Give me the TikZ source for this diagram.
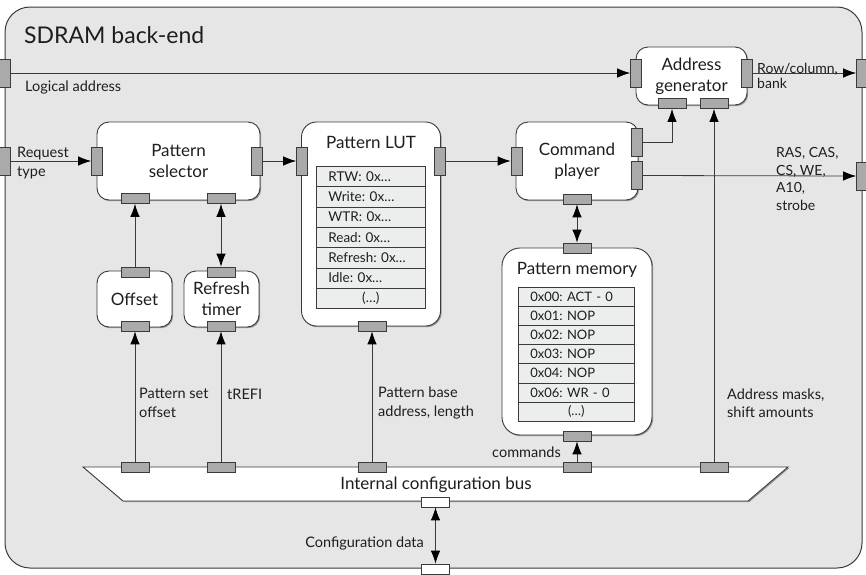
\documentclass[tikz,border=0pt]{standalone}
\usepackage{fontspec}
\setmainfont{Lato}
\frenchspacing
\usetikzlibrary{arrows.meta,shadows}
\definecolor{bg}{HTML}{E6E6E6}
\definecolor{ln}{HTML}{3A3A3A}
\definecolor{portc}{HTML}{AAAAAA}
\definecolor{tb}{HTML}{ECEDED}
\definecolor{tx}{HTML}{1E1E1E}
\tikzset{
 blk/.style={draw=ln, fill=white, line width=0.9pt, rounded corners=12pt,
   drop shadow={shadow xshift=1.2pt,shadow yshift=-1.2pt,fill=black,opacity=0.35},
   inner sep=0pt, align=center, font=\fontsize{17pt}{21pt}\selectfont, text=tx},
 hport/.style={draw=ln, fill=portc, line width=0.7pt, minimum width=28pt, minimum height=10pt, inner sep=0pt},
 vport/.style={draw=ln, fill=portc, line width=0.7pt, minimum width=11pt, minimum height=28pt, inner sep=0pt},
 wport/.style={hport, fill=white},
 conn/.style={draw=ln, line width=0.8pt},
 tip/.tip={Latex[length=13pt,width=9.5pt,color=black]},
 arr/.style={conn, -tip},
 darr/.style={conn, tip-tip},
 lbl/.style={inner sep=0pt, align=left, font=\fontsize{14.5pt}{18.5pt}\selectfont, text=tx},
 ttl/.style={inner sep=0pt, font=\fontsize{17pt}{21pt}\selectfont, text=tx},
 row/.style={draw=ln, fill=tb, line width=0.7pt, inner ysep=0pt, inner xsep=12pt,
   anchor=north west, font=\fontsize{13.5pt}{14pt}\selectfont, text=tx},
}
\begin{document}
\begin{tikzpicture}[x=1pt,y=-1pt]
\useasboundingbox (0,0) rectangle (866,574);
% outer container
\draw[draw=ln, fill=bg, line width=1pt, rounded corners=25pt] (5,7) rectangle (862,568);
\node[anchor=west, inner sep=0pt, font=\fontsize{23pt}{27pt}\selectfont, text=tx] (title) at (24,35) {SDRAM back-end};

% internal configuration bus
\draw[draw=ln, fill=white, line width=0.9pt, drop shadow={shadow xshift=1.2pt,shadow yshift=-1.2pt,fill=black,opacity=0.35}]
  (83,467) -- (788,467) -- (748,501) -- (123,501) -- cycle;
\node[ttl] (bus) at (436,485) {Internal configuration bus};

% blocks
\node[blk, minimum width=163pt, minimum height=78pt] (ps) at (178.5,161) {Pattern\\selector};
\node[blk, minimum width=139pt, minimum height=204pt, rounded corners=15pt] (lut) at (371,224) {};
\node[ttl] (lut-t) at (371,142) {Pattern LUT};
\node[blk, minimum width=122pt, minimum height=78pt] (cp) at (577,161) {Command\\player};
\node[blk, minimum width=111pt, minimum height=58pt] (ag) at (691.5,76) {Address\\generator};
\node[blk, minimum width=75pt, minimum height=56pt] (off) at (134.5,299) {Offset};
\node[blk, minimum width=75pt, minimum height=56pt] (rt) at (221.5,299) {Refresh\\timer};
\node[blk, minimum width=150pt, minimum height=187pt, rounded corners=18pt] (pm) at (577,341.5) {};
\node[ttl] (pm-t) at (577,270) {Pattern memory};

% LUT table
\foreach \t [count=\i from 0] in {RTW: 0x…, Write: 0x…, WTR: 0x…, Read: 0x…, Refresh: 0x…, Idle: 0x…}
  \node[row, text width=85pt, minimum height=20.3pt, align=left] (lutrow\i) at (316,{166+\i*20.3}) {\t};
\node[row, text width=85pt, minimum height=20.3pt, align=center] (lutrow6) at (316,{166+6*20.3}) {(…)};

% pattern memory table
\foreach \t [count=\i from 0] in {0x00: ACT - 0, 0x01: NOP, 0x02: NOP, 0x03: NOP, 0x04: NOP, 0x06: WR - 0}
  \node[row, text width=92pt, minimum height=19.1pt, align=left, font=\fontsize{13pt}{14pt}\selectfont] (pmrow\i) at (518,{287+\i*19.1}) {\t};
\node[row, text width=92pt, minimum height=19.1pt, align=center, font=\fontsize{13pt}{14pt}\selectfont] (pmrow6) at (518,{287+6*19.1}) {(…)};

% ports
\node[vport] (la-in) at (5,73) {};
\node[vport] (rq-in) at (5,161) {};
\node[vport] (out-rc) at (862,73) {};
\node[vport] (out-cmd) at (862,176) {};
\node[wport] (out-bot) at (435.5,569) {};

\node[vport] (ps-l) at (97,161) {};
\node[vport] (ps-r) at (256.5,161) {};
\node[hport] (ps-b1) at (135,198.5) {};
\node[hport] (ps-b2) at (221,198.5) {};

\node[vport] (lut-l) at (302,161) {};
\node[vport] (lut-r) at (439.5,161) {};
\node[hport] (lut-b) at (372,326) {};

\node[vport] (cp-l) at (516.5,161) {};
\node[vport] (cp-r1) at (637,142.5) {};
\node[vport] (cp-r2) at (637,175.5) {};
\node[hport] (cp-b) at (577,199) {};

\node[vport] (ag-l) at (636,73) {};
\node[vport] (ag-r) at (747,73) {};
\node[hport] (ag-b1) at (672,103.5) {};
\node[hport] (ag-b2) at (714,103.5) {};

\node[hport] (off-t) at (135,272) {};
\node[hport] (off-b) at (135,326) {};
\node[hport] (rt-t) at (221,272) {};
\node[hport] (rt-b) at (221,326) {};

\node[hport] (pm-top) at (577,248) {};
\node[hport] (pm-bot) at (577,436) {};

\node[hport] (bp1) at (135,467) {};
\node[hport] (bp2) at (221,467) {};
\node[hport] (bp3) at (372,467) {};
\node[hport] (bp4) at (577,467) {};
\node[hport] (bp5) at (714,467) {};
\node[wport] (bus-out) at (435.5,502) {};

% connectors
\draw[arr] (la-in.east) -- (ag-l.west);
\draw[arr] (rq-in.east) -- (ps-l.west);
\draw[arr] (ps-r.east) -- (lut-l.west);
\draw[arr] (lut-r.east) -- (cp-l.west);
\draw[arr] (cp-r1.east) -| (ag-b1.south);
\draw[arr] (cp-r2.east) -- (out-cmd.west);
\draw[arr] (ag-r.east) -- (out-rc.west);
\draw[arr] (off-t.north) -- (ps-b1.south);
\draw[darr] (rt-t.north) -- (ps-b2.south);
\draw[darr] (cp-b.south) -- (pm-top.north);
\draw[arr] (bp1.north) -- (off-b.south);
\draw[arr] (bp2.north) -- (rt-b.south);
\draw[arr] (bp3.north) -- (lut-b.south);
\draw[arr] (bp4.north) -- (pm-bot.south);
\draw[arr] (bp5.north) -- (ag-b2.south);
\draw[darr] (bus-out.south) -- (out-bot.north);

% labels
\node[lbl, anchor=west] (l-la) at (25,87) {Logical address};
\node[lbl, anchor=west] (l-rq) at (17,163) {Request\\type};
\node[lbl, anchor=west, font=\fontsize{14pt}{15pt}\selectfont] (l-rc) at (757,76) {Row/column,\\bank};
\node[lbl, anchor=west, font=\fontsize{14pt}{17.5pt}\selectfont] (l-cmd) at (776,179) {RAS, CAS,\\CS, WE,\\A10,\\strobe};
\node[lbl, anchor=west] (l-off) at (139,403) {Pattern set\\offset};
\node[lbl, anchor=west] (l-tr) at (227,394) {tREFI};
\node[lbl, anchor=west] (l-pb) at (378,403) {Pattern base\\address, length};
\node[lbl, anchor=west] (l-am) at (727,403) {Address masks,\\shift amounts};
\node[lbl, anchor=east] (l-cm) at (561,452) {commands};
\node[lbl, anchor=east] (l-cd) at (424,543) {Configuration data};
\end{tikzpicture}
\end{document}
